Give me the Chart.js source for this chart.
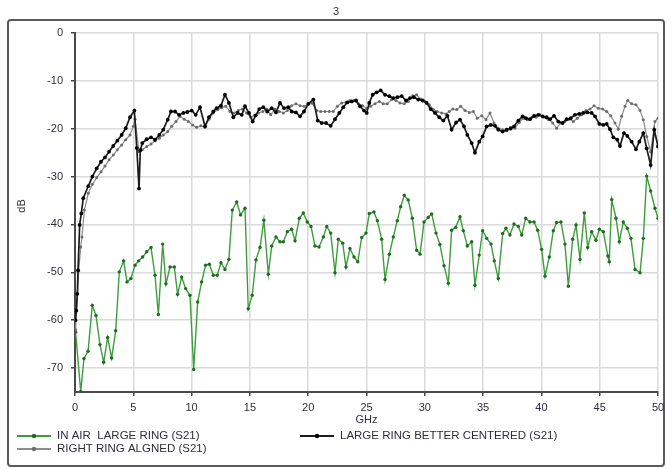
<!DOCTYPE html>
<html>
<head>
<meta charset="utf-8">
<script src="https://cdn.jsdelivr.net/npm/chart.js@4.4.1/dist/chart.umd.min.js"></script>
<style>
  body { margin: 0; background: #fff; }
  canvas { display: block; }
</style>
</head>
<body>
<canvas id="chart" width="671" height="469"></canvas>
<script>
const chartTitle = "3"
const xTitle = "GHz"
const yTitle = "dB"
const xTickValues = [0, 5, 10, 15, 20, 25, 30, 35, 40, 45, 50]
const yTickValues = [-70, -60, -50, -40, -30, -20, -10, 0]

// IN AIR  LARGE RING (S21)
const greenLabel = "IN AIR  LARGE RING (S21)"
const greenGHz = [0.05, 0.49, 0.77, 1.12, 1.48, 1.8, 2.14, 2.46, 2.8, 3.14, 3.49, 3.8, 4.17, 4.46, 4.8, 5.15, 5.46, 5.8, 6.15, 6.52,
    6.86, 7.15, 7.52, 7.8, 8.15, 8.52, 8.8, 9.15, 9.49, 9.86, 10.18, 10.52, 10.86, 11.2, 11.52, 11.86, 12.2, 12.52, 12.86, 13.2,
    13.49, 13.87, 14.2, 14.58, 14.86, 15.2, 15.52, 15.87, 16.2, 16.58, 16.87, 17.24, 17.58, 17.87, 18.21, 18.58, 18.87, 19.24, 19.58, 19.92,
    20.24, 20.58, 20.93, 21.3, 21.59, 21.93, 22.3, 22.58, 22.96, 23.24, 23.58, 23.93, 24.25, 24.59, 24.96, 25.24, 25.64, 25.93, 26.3, 26.59,
    26.96, 27.3, 27.64, 27.93, 28.24, 28.58, 28.93, 29.3, 29.59, 29.93, 30.3, 30.59, 30.96, 31.3, 31.65, 32.02, 32.3, 32.65, 33.02, 33.3,
    33.65, 34.02, 34.3, 34.67, 34.96, 35.31, 35.68, 35.96, 36.3, 36.68, 36.96, 37.3, 37.65, 38.02, 38.31, 38.65, 39.02, 39.37, 39.68, 40.02,
    40.31, 40.68, 41.02, 41.3, 41.68, 42.02, 42.31, 42.68, 42.97, 43.31, 43.68, 43.97, 44.31, 44.68, 44.97, 45.31, 45.7, 45.82, 46.03, 46.4,
    46.68, 47.02, 47.37, 47.68, 48.03, 48.46, 48.74, 49.03, 49.37, 49.74, 50]
const greenDb = [-62.5, -74.9, -68, -66.5, -56.9, -59, -65.1, -68.8, -63.6, -67.9, -62.2, -49.9, -47.6, -52, -51.3, -48.5, -47.6, -46.8, -45.7, -44.8,
    -50.6, -58.8, -44.1, -52.4, -48.9, -48.9, -54.6, -51, -53.4, -54.8, -70.3, -56.2, -52, -48.5, -48.3, -50.6, -50.6, -48, -49.4, -47.3,
    -37, -35.3, -38, -36.6, -57.6, -54.8, -47.4, -44.8, -39.1, -50.4, -44.5, -42.6, -43.6, -43.6, -41.5, -41, -43.4, -38.7, -37.6, -39.5,
    -40.4, -44.5, -44.7, -42.6, -40.4, -41.8, -50.1, -43.1, -43.9, -48.9, -45, -46.8, -47.8, -42.7, -41.8, -37.7, -37.4, -39.2, -43.1, -51.5,
    -46.2, -42.6, -39.2, -36.3, -33.9, -34.9, -38.7, -45.4, -46.2, -39.5, -38.5, -37.8, -41.8, -44.2, -48.6, -52.3, -41.2, -40.6, -38.4, -41.3,
    -44.5, -43.6, -52.7, -46.4, -41.3, -42.9, -44.1, -47.6, -51.3, -41.9, -40.8, -42.2, -39.9, -40.4, -42.2, -38.7, -39.5, -39.5, -41.2, -45.2,
    -50.8, -46.8, -41.3, -39.6, -39.5, -44.1, -52.9, -43.1, -40.1, -47.3, -37.6, -44.8, -41.5, -43.3, -41, -41.5, -46.6, -47.8, -34.8, -38.7,
    -43.6, -39.5, -40.8, -42.9, -49.4, -50.1, -42.9, -29.9, -33, -36.6, -38.7]

// LARGE RING BETTER CENTERED (S21)
const blackLabel = "LARGE RING BETTER CENTERED (S21)"
const blackGHz = [0.03, 0.11, 0.2, 0.26, 0.4, 0.54, 0.71, 1.14, 1.49, 1.86, 2.23, 2.57, 2.92, 3.28, 3.63, 4, 4.35, 4.72, 5.09, 5.3,
    5.49, 5.6, 5.77, 6.15, 6.52, 6.86, 7.23, 7.57, 7.95, 8.23, 8.58, 8.92, 9.29, 9.63, 10.01, 10.35, 10.72, 11.15, 11.49, 11.86,
    12.15, 12.52, 12.86, 13.2, 13.58, 13.95, 14.3, 14.58, 14.92, 15.24, 15.5, 15.8, 16.15, 16.49, 16.87, 17.24, 17.58, 17.93, 18.29, 18.59,
    18.95, 19.3, 19.64, 20.01, 20.44, 20.82, 21.16, 21.53, 21.93, 22.3, 22.67, 23.01, 23.35, 23.73, 24.1, 24.44, 24.79, 25.02, 25.24, 25.53,
    25.87, 26.22, 26.59, 26.96, 27.3, 27.65, 28.02, 28.39, 28.73, 29.07, 29.44, 29.82, 30.16, 30.5, 30.87, 31.24, 31.59, 31.94, 32.3, 32.68,
    33.02, 33.36, 33.65, 34.02, 34.3, 34.67, 34.96, 35.31, 35.65, 36.02, 36.3, 36.68, 37.02, 37.36, 37.65, 38.02, 38.39, 38.68, 39.02, 39.37,
    39.74, 40.11, 40.45, 40.74, 41.08, 41.45, 41.82, 42.17, 42.51, 42.88, 43.25, 43.6, 43.94, 44.31, 44.6, 44.97, 45.31, 45.6, 45.88, 46.17,
    46.51, 46.74, 47.08, 47.37, 47.74, 48.11, 48.4, 48.74, 49.03, 49.37, 49.68, 50]
const blackDb = [-60, -58, -54.5, -49.6, -40.1, -37.7, -34.5, -32, -30, -28.3, -26.9, -26, -24.8, -23.6, -22.5, -21.3, -19.9, -17.6, -16.2, -24,
    -32.5, -24.5, -23, -22.2, -21.8, -22.3, -21.3, -20.2, -18.1, -16.4, -16.4, -17.1, -16.7, -16.5, -16.2, -17.1, -15.5, -19.5, -17.6, -16.4,
    -15.7, -15.2, -12.9, -14.6, -17.6, -16.7, -17.1, -15.3, -16.7, -18.5, -17.2, -15.9, -15.5, -16.4, -15.7, -16.6, -14.6, -15.7, -15.5, -16.4,
    -16.6, -17.4, -16.4, -14.8, -13.9, -18.3, -18.8, -18.8, -19.4, -18, -16.7, -15.5, -14.5, -14.3, -14.1, -15.3, -16.2, -16.7, -14.6, -12.9,
    -12.4, -12, -12.9, -13.2, -13.6, -13.4, -13.2, -14.1, -13.6, -13.4, -13.9, -14.1, -14.6, -15.9, -16.7, -17.6, -18.3, -17.3, -20.2, -18.7,
    -18.1, -19.5, -21.3, -23, -25, -22.7, -21.6, -19.5, -19.2, -19.4, -20.2, -20.6, -20.2, -19.9, -19.5, -18.3, -17.4, -17.8, -18, -17.3,
    -17.1, -17.4, -17.6, -18, -17.3, -18.5, -18.8, -18, -17.8, -17.1, -16.9, -16.7, -16.6, -16.7, -17.4, -19, -19.2, -19, -20.1, -21.8,
    -22.3, -23.6, -20.9, -21.5, -22.7, -24.3, -22.7, -20.9, -24.1, -27.6, -20.2, -23.7]

// RIGHT RING ALGNED (S21)
const grayLabel = "RIGHT RING ALGNED (S21)"
const grayGHz = [0.05, 0.32, 0.49, 0.6, 0.8, 1.14, 1.49, 1.86, 2.23, 2.57, 2.92, 3.28, 3.63, 4, 4.35, 4.72, 5, 5.15, 5.49, 5.77,
    6.15, 6.52, 6.86, 7.23, 7.57, 7.95, 8.29, 8.66, 9, 9.37, 9.72, 10.09, 10.43, 10.8, 11.15, 11.49, 11.86, 12.24, 12.58, 12.92,
    13.29, 13.64, 14, 14.35, 14.72, 15.07, 15.4, 15.72, 16.1, 16.44, 16.78, 17.15, 17.52, 17.87, 18.21, 18.58, 18.95, 19.3, 19.64, 20.01,
    20.36, 20.72, 21.07, 21.44, 21.81, 22.15, 22.5, 22.87, 23.24, 23.58, 23.93, 24.3, 24.67, 25.02, 25.36, 25.73, 26.1, 26.44, 26.78, 27.15,
    27.53, 27.87, 28.22, 28.58, 28.96, 29.3, 29.64, 30.01, 30.39, 30.73, 31.07, 31.45, 31.82, 32.1, 32.4, 32.74, 33.08, 33.45, 33.82, 34.16,
    34.5, 34.88, 35.25, 35.59, 35.93, 36.3, 36.68, 37.02, 37.36, 37.73, 38.1, 38.45, 38.79, 39.17, 39.54, 39.88, 40.22, 40.59, 40.97, 41.31,
    41.65, 42.02, 42.39, 42.74, 43.08, 43.45, 43.82, 44.17, 44.51, 44.88, 45.25, 45.6, 45.94, 46.31, 46.6, 46.88, 47.17, 47.4, 47.74, 48.11,
    48.46, 48.74, 49.03, 49.37, 49.74, 50]
const grayDb = [-62, -49.6, -44.7, -42.6, -37, -33.5, -31.6, -30.2, -29, -27.8, -26.5, -25.5, -24.4, -23.4, -22.3, -21.3, -19.5, -18, -24.8, -24.4,
    -23.7, -23.2, -22.5, -22, -21.3, -20.6, -19.5, -18.5, -17.4, -18, -18.5, -19.2, -19.7, -19.4, -19.7, -18, -16.7, -16, -15.6, -15.3,
    -16.4, -16.7, -16.2, -15.9, -16.7, -17.6, -17.2, -16.7, -16.4, -15.9, -17.1, -15.9, -16.4, -16.7, -16.2, -15.2, -14.8, -15.2, -15.3, -14.8,
    -14.7, -16.2, -16.4, -16.4, -16.4, -16.4, -15.3, -14.6, -14.5, -14.1, -14.1, -14.8, -15.2, -15.7, -15.3, -14.8, -14.3, -14.8, -14.8, -13.9,
    -14.1, -14.6, -14.8, -14.3, -13.1, -12.9, -13.8, -14.3, -15, -16, -16.4, -16.7, -16.9, -16.4, -15.9, -16, -15.3, -16.2, -16.6, -16.4,
    -17.8, -17.3, -18.1, -16.7, -18.8, -19.9, -20.2, -20.4, -20.1, -19.9, -18.7, -17.8, -18.1, -17.6, -17.6, -17.1, -17.6, -18, -18.8, -19.9,
    -18.8, -18.5, -18, -18.5, -17.8, -17.1, -16.2, -15.9, -15.2, -15.7, -15.9, -16.4, -17.3, -18.8, -20.1, -17.4, -15.3, -14.1, -14.8, -15,
    -16.2, -18.1, -21.6, -24.8, -18.5, -17.8]

const toPoints = (xs, ys) => xs.map((x, i) => ({x: x, y: ys[i]}))

const FONT = "Liberation Sans, Arial, sans-serif"
const TEXT = "#2e2e3a"

// white page, outer frame and the title "3"
const framePlugin = {
    id: "frame",
    beforeDraw(chart) {
        const ctx = chart.ctx
        ctx.save()
        ctx.fillStyle = "#fff"
        ctx.fillRect(0, 0, chart.width, chart.height)
        ctx.strokeStyle = "#5a5a5a"
        ctx.lineWidth = 2
        ctx.beginPath()
        ctx.roundRect(8, 20, 656, 446, 3)
        ctx.stroke()
        ctx.fillStyle = TEXT
        ctx.font = "11px " + FONT
        ctx.textAlign = "center"
        ctx.textBaseline = "middle"
        ctx.fillText(chartTitle, 336, 12)
        ctx.restore()
    },
    afterDraw(chart) {
        const ctx = chart.ctx
        const area = chart.chartArea
        ctx.save()
        ctx.fillStyle = TEXT
        ctx.font = "11px " + FONT
        ctx.textAlign = "center"
        ctx.textBaseline = "middle"
        ctx.fillText(xTitle, (area.left + area.right) / 2, 420)
        ctx.translate(22, 206)
        ctx.rotate(-Math.PI / 2)
        ctx.fillText(yTitle, 0, 0)
        ctx.restore()

        // legend, two columns as in the original
        const spots = [[17, 436], [300, 436], [17, 449]]
        ctx.save()
        ctx.font = "11.5px " + FONT
        ctx.textBaseline = "middle"
        chart.data.datasets.forEach((ds, i) => {
            const [x, y] = spots[i]
            ctx.strokeStyle = ds.borderColor
            ctx.lineWidth = 2
            ctx.beginPath()
            ctx.moveTo(x, y)
            ctx.lineTo(x + 34, y)
            ctx.stroke()
            ctx.fillStyle = ds.pointBackgroundColor
            ctx.beginPath()
            ctx.arc(x + 17, y, 2.2, 0, Math.PI * 2)
            ctx.fill()
            ctx.fillStyle = TEXT
            ctx.fillText(ds.label, x + 40, y)
        })
        ctx.restore()
    }
}

new Chart(document.getElementById("chart"), {
    type: "line",
    data: {
        datasets: [
            {
                label: greenLabel,
                data: toPoints(greenGHz, greenDb),
                borderColor: "#3d9d3d",
                borderWidth: 1.4,
                pointBackgroundColor: "#1f6b1f",
                pointBorderWidth: 0,
                pointRadius: 1.7,
                order: 3
            },
            {
                label: blackLabel,
                data: toPoints(blackGHz, blackDb),
                borderColor: "#1c1c1c",
                borderWidth: 1.7,
                pointBackgroundColor: "#000",
                pointBorderWidth: 0,
                pointRadius: 1.9,
                order: 1
            },
            {
                label: grayLabel,
                data: toPoints(grayGHz, grayDb),
                borderColor: "#8c8c8c",
                borderWidth: 1.2,
                pointBackgroundColor: "#6c6c6c",
                pointBorderWidth: 0,
                pointRadius: 1.5,
                order: 2
            }
        ]
    },
    options: {
        responsive: false,
        animation: false,
        devicePixelRatio: 1,
        layout: { padding: { left: 0, right: 13, top: 33, bottom: 0 } },
        plugins: {
            legend: { display: false },
            title: { display: false },
            tooltip: { enabled: false }
        },
        scales: {
            x: {
                type: "linear",
                min: 0,
                max: 50,
                afterBuildTicks: s => { s.ticks = xTickValues.map(v => ({value: v})) },
                afterFit: s => { s.height = 77 },
                ticks: { color: TEXT, font: { family: FONT, size: 11 }, padding: 5, maxRotation: 0 },
                grid: { color: "#dadada", lineWidth: 1.5, tickLength: 4, tickColor: "#444" },
                border: { color: "#4a4a4a", width: 2 }
            },
            y: {
                min: -75,
                max: 0,
                afterBuildTicks: s => { s.ticks = yTickValues.map(v => ({value: v})) },
                afterFit: s => { s.width = 75 },
                ticks: { color: TEXT, font: { family: FONT, size: 11 }, padding: 8 },
                grid: { color: "#dadada", lineWidth: 1.5, tickLength: 4, tickColor: "#444" },
                border: { color: "#4a4a4a", width: 2 }
            }
        }
    },
    plugins: [framePlugin]
})
</script>
</body>
</html>
